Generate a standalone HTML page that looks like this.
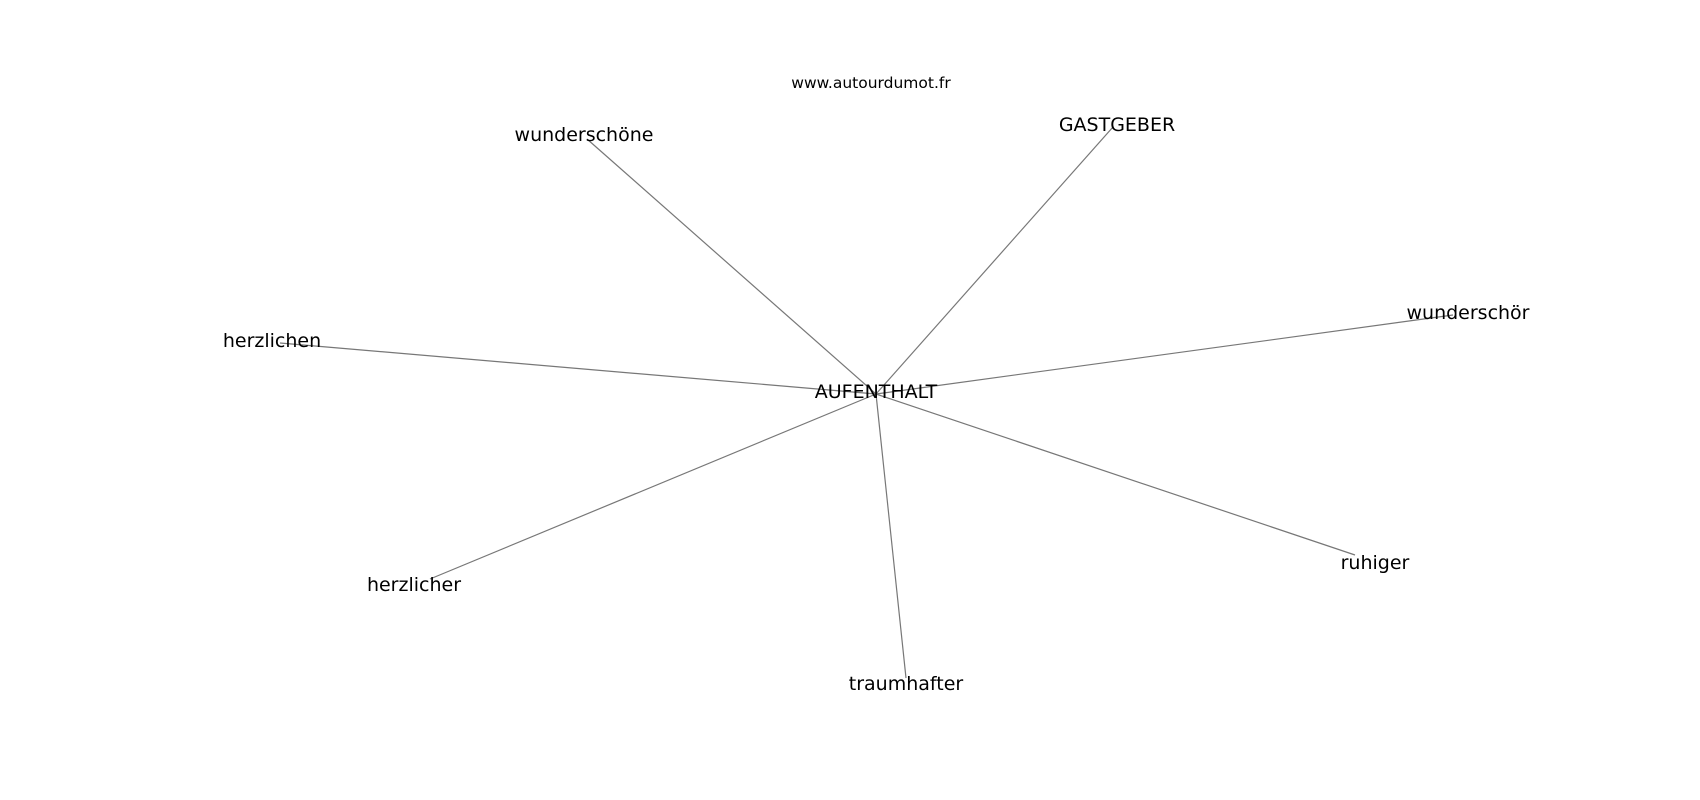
<!DOCTYPE html>
<html><head><meta charset="utf-8"><style>
html,body{margin:0;padding:0;background:#fff;}
svg{display:block;}
text{font-family:"DejaVu Sans","Liberation Sans",sans-serif;fill:#000;}
</style></head><body>
<svg width="1700" height="800" viewBox="0 0 1700 800" xmlns="http://www.w3.org/2000/svg">
<g stroke="#777" stroke-width="1.2" fill="none">
<line x1="876" y1="394" x2="1113" y2="127"/>
<line x1="876" y1="394" x2="587" y2="139"/>
<line x1="876" y1="394" x2="1453" y2="315"/>
<line x1="876" y1="394" x2="280" y2="343"/>
<line x1="876" y1="394" x2="430" y2="579"/>
<line x1="876" y1="394" x2="906" y2="678"/>
<line x1="876" y1="394" x2="1355" y2="555"/>
</g>
<g text-anchor="middle" dominant-baseline="central" font-size="19">
<text x="871" y="83" font-size="15.5">www.autourdumot.fr</text>
<text x="876" y="392">AUFENTHALT</text>
<text x="1117" y="125">GASTGEBER</text>
<text x="584" y="135">wunderschöne</text>
<text x="1468" y="313">wunderschör</text>
<text x="272" y="341">herzlichen</text>
<text x="414" y="585">herzlicher</text>
<text x="906" y="684">traumhafter</text>
<text x="1375" y="563">ruhiger</text>
</g>
</svg>
</body></html>
